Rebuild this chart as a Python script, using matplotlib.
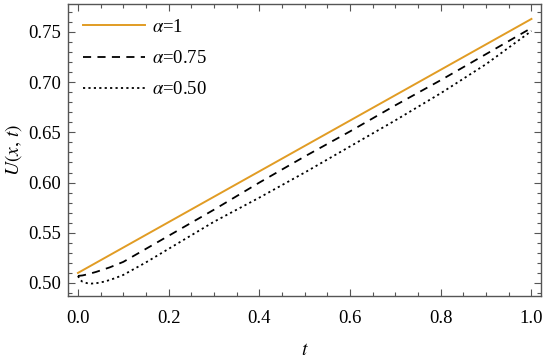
import matplotlib
matplotlib.use('Agg')
import matplotlib.pyplot as plt
from matplotlib.ticker import MultipleLocator

plt.rcParams['font.family'] = 'serif'
plt.rcParams['font.serif'] = ['Liberation Serif', 'TeX Gyre Termes', 'STIXGeneral']
plt.rcParams['mathtext.fontset'] = 'stix'

# values
t1 = [0.0, 1.0]
u1 = [0.510, 0.763]

t2 = [0.0, 0.01, 0.02, 0.04, 0.07, 0.1, 0.15, 0.2, 0.3, 0.4, 0.5, 0.6, 0.7, 0.8, 0.9, 1.0]
u2 = [0.507, 0.5075, 0.5085, 0.511, 0.5155, 0.521, 0.534, 0.547, 0.573, 0.600, 0.626, 0.651,
      0.677, 0.702, 0.728, 0.754]

t3 = [0.0, 0.005, 0.01, 0.02, 0.03, 0.04, 0.06, 0.08, 0.1, 0.15, 0.2, 0.3, 0.4, 0.5, 0.6,
      0.7, 0.8, 0.9, 1.0]
u3 = [0.507, 0.503, 0.5012, 0.4998, 0.4994, 0.4997, 0.5015, 0.5045, 0.508, 0.5205, 0.534,
      0.561, 0.585, 0.610, 0.636, 0.662, 0.689, 0.718, 0.751]

labels = [r'$\alpha$=1', r'$\alpha$=0.75', r'$\alpha$=0.50']
xticks = [0.0, 0.2, 0.4, 0.6, 0.8, 1.0]
yticks = [0.50, 0.55, 0.60, 0.65, 0.70, 0.75]

fig = plt.figure(figsize=(5.5, 3.62), dpi=100)
ax = fig.add_axes([0.1236, 0.1823, 0.86, 0.807])

ax.plot(t1, u1, color='#e19c24', lw=1.4, label=labels[0])
ax.plot(t2, u2, color='black', lw=1.3, ls=(0, (4.5, 3.5)), label=labels[1])
ax.plot(t3, u3, color='black', lw=1.3, ls=(0, (1.2, 1.8)), label=labels[2])

ax.set_xlim(-0.022, 1.021)
ax.set_ylim(0.487, 0.778)
ax.set_xticks(xticks)
ax.set_yticks(yticks)
ax.set_xticklabels(['%.1f' % v for v in xticks])
ax.set_yticklabels(['%.2f' % v for v in yticks])
ax.xaxis.set_minor_locator(MultipleLocator(0.05))
ax.yaxis.set_minor_locator(MultipleLocator(0.01))

for s in ax.spines.values():
    s.set_color('#555555')
    s.set_linewidth(1.0)
ax.tick_params(which='both', direction='in', top=True, right=True, color='#555555', width=0.8)
ax.tick_params(which='major', length=5, labelsize=13.5)
ax.tick_params(which='minor', length=2.8)
ax.tick_params(axis='x', which='major', pad=10)
ax.tick_params(axis='y', which='major', pad=5)

ax.set_xlabel(r'$t$', fontsize=14, labelpad=11)
ax.set_ylabel(r'$U(x,\,t)$', fontsize=14, labelpad=3)

ax.legend(loc='upper left', frameon=False, fontsize=13.5, handlelength=3.3,
          handletextpad=0.4, labelspacing=0.75, borderaxespad=0.4,
          bbox_to_anchor=(0.0, 1.0))

fig.savefig('out.png', dpi=100)
